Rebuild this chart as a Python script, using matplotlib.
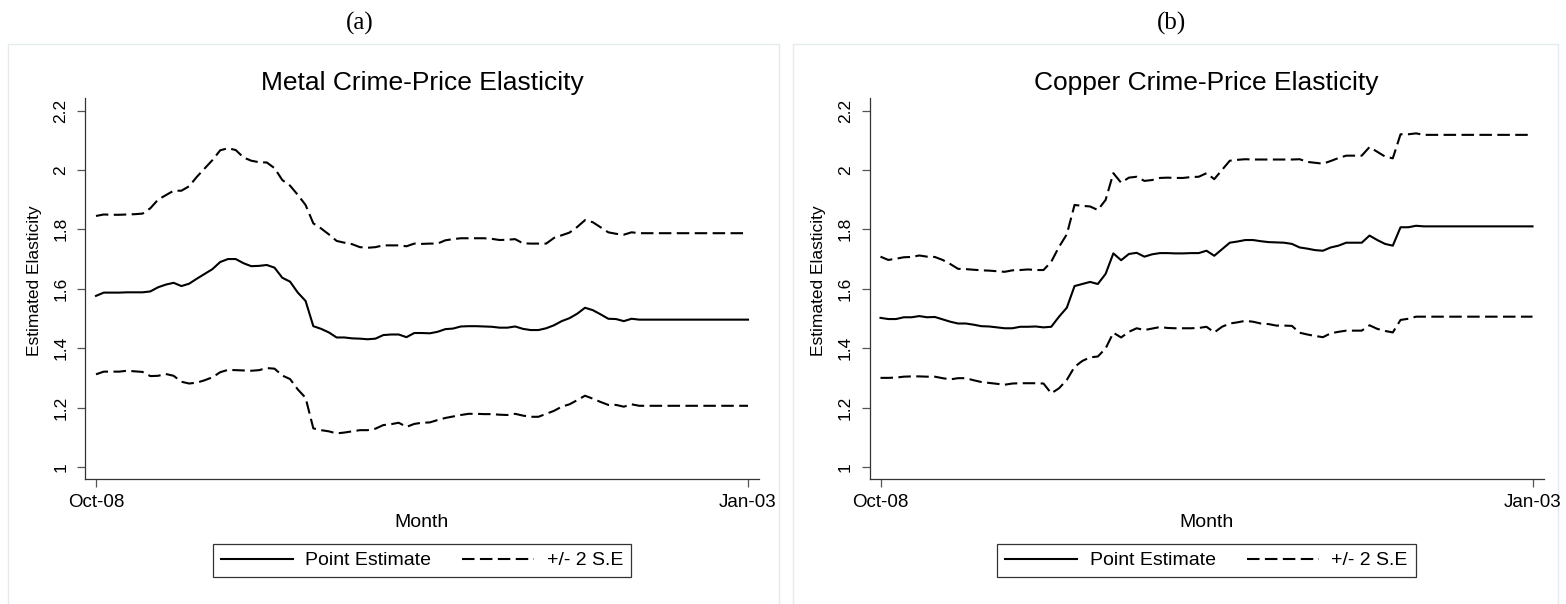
import matplotlib
matplotlib.use("Agg")
import matplotlib.pyplot as plt
from matplotlib.patches import Rectangle
import numpy as np

plt.rcParams['font.family'] = ['Liberation Sans', 'DejaVu Sans']

# month labels at the two ends of the sample
tick_labels = ['Oct-08', 'Jan-03']

# (a) metal
metal_point = [1.576, 1.587, 1.587, 1.587, 1.588, 1.588, 1.588, 1.591, 1.605, 1.614,
               1.620, 1.609, 1.617, 1.634, 1.650, 1.666, 1.690, 1.700, 1.700, 1.686,
               1.676, 1.677, 1.680, 1.671, 1.637, 1.624, 1.587, 1.559, 1.474, 1.465,
               1.453, 1.436, 1.436, 1.433, 1.432, 1.430, 1.432, 1.444, 1.446, 1.446,
               1.437, 1.451, 1.451, 1.450, 1.455, 1.464, 1.466, 1.473, 1.474, 1.474,
               1.473, 1.472, 1.469, 1.469, 1.473, 1.465, 1.461, 1.461, 1.467, 1.477,
               1.491, 1.501, 1.516, 1.536, 1.528, 1.514, 1.499, 1.498, 1.491, 1.499,
               1.496, 1.496, 1.496, 1.496, 1.496, 1.496, 1.496, 1.496, 1.496, 1.496,
               1.496, 1.496, 1.496, 1.496, 1.496]
metal_upper = [1.845, 1.850, 1.849, 1.849, 1.850, 1.851, 1.853, 1.871, 1.900, 1.915,
               1.930, 1.930, 1.945, 1.977, 2.005, 2.033, 2.066, 2.073, 2.067, 2.042,
               2.031, 2.026, 2.025, 2.006, 1.966, 1.947, 1.916, 1.882, 1.820, 1.803,
               1.783, 1.761, 1.755, 1.750, 1.740, 1.738, 1.740, 1.746, 1.746, 1.746,
               1.743, 1.752, 1.751, 1.752, 1.752, 1.763, 1.767, 1.770, 1.770, 1.770,
               1.770, 1.768, 1.764, 1.765, 1.767, 1.753, 1.752, 1.752, 1.752, 1.771,
               1.780, 1.789, 1.808, 1.831, 1.824, 1.807, 1.790, 1.785, 1.782, 1.790,
               1.787, 1.787, 1.787, 1.787, 1.787, 1.787, 1.787, 1.787, 1.787, 1.787,
               1.787, 1.787, 1.787, 1.787, 1.787]
metal_lower = [1.312, 1.321, 1.321, 1.321, 1.324, 1.322, 1.320, 1.306, 1.307, 1.313,
               1.307, 1.287, 1.281, 1.284, 1.292, 1.302, 1.319, 1.327, 1.326, 1.325,
               1.324, 1.326, 1.333, 1.331, 1.308, 1.296, 1.261, 1.233, 1.130, 1.124,
               1.120, 1.113, 1.116, 1.120, 1.124, 1.124, 1.129, 1.141, 1.144, 1.149,
               1.135, 1.145, 1.149, 1.150, 1.158, 1.165, 1.170, 1.175, 1.179, 1.179,
               1.178, 1.178, 1.176, 1.175, 1.179, 1.173, 1.169, 1.169, 1.179, 1.189,
               1.203, 1.211, 1.225, 1.240, 1.230, 1.219, 1.209, 1.209, 1.203, 1.211,
               1.206, 1.206, 1.206, 1.206, 1.206, 1.206, 1.206, 1.206, 1.206, 1.206,
               1.206, 1.206, 1.206, 1.206, 1.206]

# (b) copper
copper_point = [1.502, 1.498, 1.498, 1.504, 1.504, 1.508, 1.504, 1.505, 1.497, 1.489,
                1.483, 1.483, 1.479, 1.474, 1.473, 1.470, 1.467, 1.467, 1.472, 1.472,
                1.473, 1.470, 1.472, 1.506, 1.536, 1.609, 1.616, 1.623, 1.616, 1.650,
                1.719, 1.696, 1.717, 1.721, 1.708, 1.716, 1.720, 1.720, 1.719, 1.719,
                1.720, 1.720, 1.728, 1.711, 1.733, 1.755, 1.759, 1.764, 1.764, 1.760,
                1.757, 1.756, 1.755, 1.751, 1.739, 1.735, 1.730, 1.728, 1.739, 1.745,
                1.755, 1.755, 1.755, 1.779, 1.764, 1.751, 1.745, 1.807, 1.807, 1.812,
                1.810, 1.810, 1.810, 1.810, 1.810, 1.810, 1.810, 1.810, 1.810, 1.810,
                1.810, 1.810, 1.810, 1.810, 1.810]
copper_upper = [1.708, 1.697, 1.701, 1.706, 1.707, 1.712, 1.708, 1.707, 1.697, 1.683,
                1.667, 1.666, 1.664, 1.662, 1.661, 1.659, 1.657, 1.662, 1.663, 1.665,
                1.663, 1.663, 1.691, 1.741, 1.783, 1.882, 1.879, 1.877, 1.865, 1.899,
                1.989, 1.957, 1.974, 1.977, 1.963, 1.966, 1.973, 1.974, 1.973, 1.973,
                1.976, 1.977, 1.989, 1.969, 2.000, 2.031, 2.034, 2.036, 2.035, 2.035,
                2.035, 2.035, 2.035, 2.035, 2.036, 2.027, 2.024, 2.021, 2.030, 2.040,
                2.048, 2.048, 2.048, 2.077, 2.061, 2.045, 2.039, 2.120, 2.120, 2.123,
                2.118, 2.118, 2.118, 2.118, 2.118, 2.118, 2.118, 2.118, 2.118, 2.118,
                2.118, 2.118, 2.118, 2.118, 2.118]
copper_lower = [1.300, 1.300, 1.301, 1.304, 1.305, 1.305, 1.304, 1.304, 1.299, 1.295,
                1.299, 1.299, 1.292, 1.286, 1.283, 1.280, 1.277, 1.281, 1.282, 1.282,
                1.282, 1.281, 1.248, 1.265, 1.293, 1.337, 1.357, 1.369, 1.372, 1.399,
                1.452, 1.436, 1.455, 1.467, 1.461, 1.466, 1.471, 1.468, 1.467, 1.467,
                1.467, 1.468, 1.472, 1.453, 1.472, 1.483, 1.487, 1.492, 1.489, 1.483,
                1.481, 1.476, 1.476, 1.475, 1.452, 1.446, 1.441, 1.437, 1.450, 1.455,
                1.459, 1.459, 1.459, 1.477, 1.465, 1.458, 1.453, 1.495, 1.499, 1.506,
                1.506, 1.506, 1.506, 1.506, 1.506, 1.506, 1.506, 1.506, 1.506, 1.506,
                1.506, 1.506, 1.506, 1.506, 1.506]

yticks = [1, 1.2, 1.4, 1.6, 1.8, 2, 2.2]
ytick_labels = ['1', '1.2', '1.4', '1.6', '1.8', '2', '2.2']

W, H = 1566, 604
fig = plt.figure(figsize=(W / 100, H / 100), dpi=100)

# light panel frames behind each graph
for x0, x1 in [(8, 779), (793, 1558)]:
    fig.patches.append(Rectangle((x0 / W, -0.02), (x1 - x0) / W, 1 - 44 / H + 0.02,
                                 transform=fig.transFigure, fill=False,
                                 edgecolor='#e3ebee', linewidth=1.0, zorder=-5))

fig.text(360 / W, 1 - 23 / H, '(a)', ha='center', va='center',
         family='Liberation Serif', fontsize=18)
fig.text(1172 / W, 1 - 23 / H, '(b)', ha='center', va='center',
         family='Liberation Serif', fontsize=18)

dash = (0, (6, 2.6))


def draw_panel(left_px, point, upper, lower, title):
    ax = fig.add_axes([left_px / W, 1 - 479 / H, 674 / W, 381 / H])
    ax.patch.set_alpha(0)
    x = np.arange(len(point))
    ax.plot(x, point, color='black', lw=1.5, label='Point Estimate')
    ax.plot(x, upper, color='black', lw=1.5, linestyle=dash, label='+/- 2 S.E')
    ax.plot(x, lower, color='black', lw=1.5, linestyle=dash)

    step = 652 / (len(point) - 1)
    ax.set_xlim(-11 / step, len(point) - 1 + 11 / step)
    ax.set_ylim(1 - 12 / 297, 2.2 + 12.5 / 297)

    ax.set_yticks(yticks)
    ax.set_yticklabels(ytick_labels, rotation=90, va='center', fontsize=12.5)
    ax.set_xticks([x[0], x[-1]])
    ax.set_xticklabels(tick_labels, fontsize=13.5)
    ax.tick_params(axis='y', length=6, width=0.9, color='#555555', pad=6)
    ax.tick_params(axis='x', length=6, width=0.9, color='#555555', pad=5)

    for s in ['top', 'right']:
        ax.spines[s].set_visible(False)
    for s in ['left', 'bottom']:
        ax.spines[s].set_color('#333333')
        ax.spines[s].set_linewidth(0.9)

    ax.set_title(title, fontsize=19, pad=6)
    ax.set_xlabel('Month', fontsize=14, labelpad=2)
    ax.set_ylabel('Estimated Elasticity', fontsize=12.5)
    ax.yaxis.set_label_coords(-43 / 674, 0.52)

    cx = (left_px + 337) / W
    leg = ax.legend(loc='center', bbox_to_anchor=(cx, 1 - 560.5 / H),
                    bbox_transform=fig.transFigure, ncol=2, fontsize=14,
                    frameon=True, fancybox=False, handlelength=3.7,
                    handletextpad=0.65, columnspacing=1.6, borderpad=0.4,
                    borderaxespad=0)
    leg.get_frame().set_edgecolor('black')
    leg.get_frame().set_linewidth(0.9)
    return ax


draw_panel(85, metal_point, metal_upper, metal_lower, 'Metal Crime-Price Elasticity')
draw_panel(869.5, copper_point, copper_upper, copper_lower, 'Copper Crime-Price Elasticity')

fig.savefig('out.png', dpi=100)
